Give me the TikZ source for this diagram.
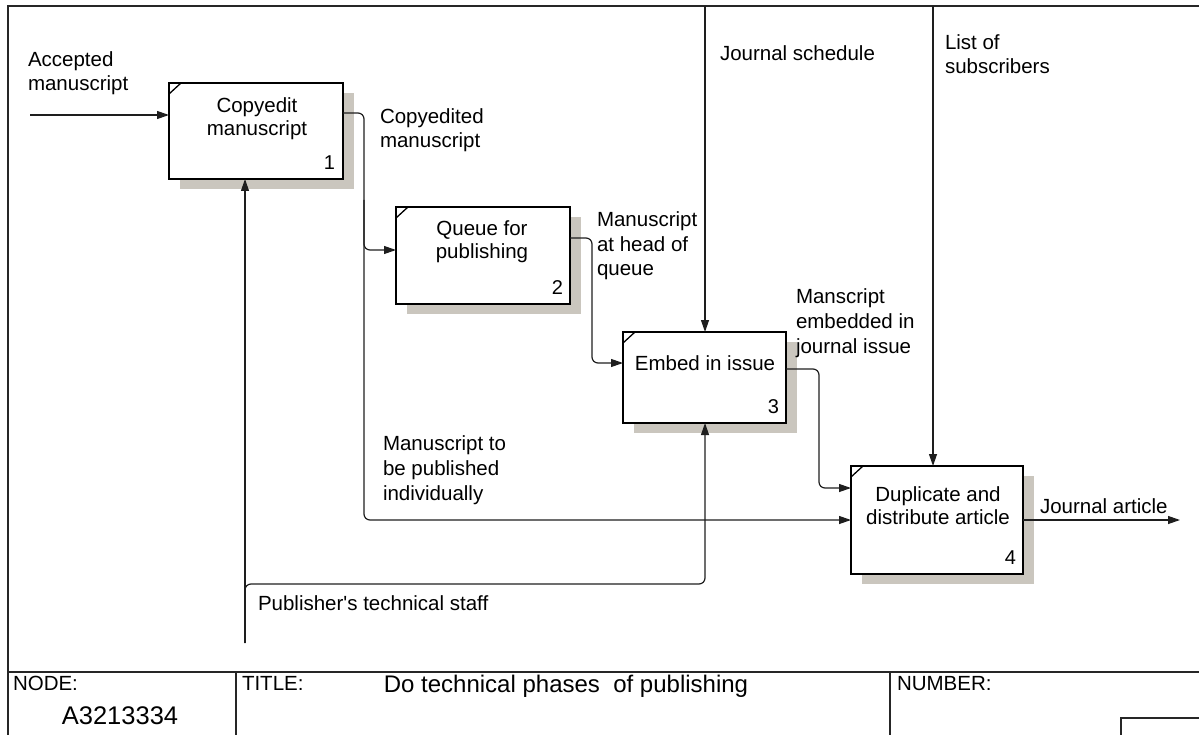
\documentclass[tikz,border=0pt]{standalone}
\usepackage{fontspec}
\setmainfont{Liberation Sans}[Ligatures=TeXOff]
\usetikzlibrary{arrows.meta,shadows}
\definecolor{shadowgray}{RGB}{202,198,190}
\definecolor{linegray}{RGB}{30,30,30}
\begin{document}
\begin{tikzpicture}[x=1pt,y=-1pt,
  every node/.style={inner sep=0pt, outer sep=0pt},
  lbl/.style={anchor=base west, align=left, font=\fontsize{20.5}{24.6}\selectfont},
  boxtext/.style={anchor=base, align=center, font=\fontsize{20.5}{23}\selectfont},
  numtext/.style={anchor=base east, font=\fontsize{20}{23}\selectfont},
  actbox/.style={draw=black, line width=2.4pt, fill=white,
    general shadow={fill=shadowgray, shadow xshift=11pt, shadow yshift=-10pt}},
  conn/.style={draw=linegray, line width=1.2pt, -{Triangle[length=12pt,width=8pt]}},
  rc/.style={rounded corners=6pt},
  frame/.style={draw=black!85, line width=1.4pt},
  tick/.style={draw=black, line width=1.3pt}]
\useasboundingbox (0,0) rectangle (1199,735);

% frame and title block
\draw[frame] (8,735) -- (8,6) -- (1199,6);
\draw[frame] (8,672) -- (1199,672);
\draw[frame] (236,672) -- (236,735);
\draw[frame] (890,672) -- (890,735);
\draw[frame] (1121,735) -- (1121,718) -- (1199,718);
\node[lbl] (nodelbl) at (13,690) {NODE:};
\node[anchor=base, font=\fontsize{25.5}{28}\selectfont] (nodeid) at (120,724) {A3213334};
\node[lbl] (titlelbl) at (242,690) {TITLE:};
\node[anchor=base, font=\fontsize{24}{28}\selectfont] (title) at (566,692) {Do technical phases\ \ of publishing};
\node[lbl] (numlbl) at (897,690) {NUMBER:};

% activity boxes
\node[actbox, minimum width=174pt, minimum height=96pt] (b1) at (256,131) {};
\node[actbox, minimum width=174pt, minimum height=97pt] (b2) at (483,255.5) {};
\node[actbox, minimum width=163pt, minimum height=91pt] (b3) at (704.5,377.5) {};
\node[actbox, minimum width=172pt, minimum height=108pt] (b4) at (937,520) {};

\foreach \b in {b1,b2,b3,b4}{
  \draw[tick] ([yshift=-11pt]\b.north west) -- ([xshift=12pt]\b.north west);
}

% box texts (anchor = baseline of last line)
\node[boxtext] (t1) at (257,136) {Copyedit\\manuscript};
\node[boxtext] (t2) at (482,259) {Queue for\\publishing};
\node[boxtext] (t3) at (705,370) {Embed in issue};
\node[boxtext] (t4) at (938,524) {Duplicate and\\distribute article};

\node[numtext] (n1) at ([xshift=-8pt,yshift=9.5pt]b1.south east) {1};
\node[numtext] (n2) at ([xshift=-7pt,yshift=9.5pt]b2.south east) {2};
\node[numtext] (n3) at ([xshift=-7pt,yshift=9.5pt]b3.south east) {3};
\node[numtext] (n4) at ([xshift=-7pt,yshift=9.5pt]b4.south east) {4};

% connector points
\coordinate (acc) at (30,115);
\coordinate (j1) at (364,113);
\coordinate (j2) at (364,250);
\coordinate (j3) at (364,200);
\coordinate (k1) at (592,238);
\coordinate (k2) at (592,363);
\coordinate (l1) at (819,369);
\coordinate (l2) at (819,488);
\coordinate (ja) at (1180,520);
\coordinate (js) at (705,6);
\coordinate (ls) at (933,6);
\coordinate (pts) at (245,643);
\coordinate (m1) at (705,584);

% connectors
\draw[conn] (acc) -- (acc -| b1.west);
\draw[conn,rc] ([yshift=18pt]b1.east) -- (j1) -- (j2) -- ([yshift=5.5pt]b2.west);
\draw[conn,rc] (j3) |- (b4.west);
\draw[conn,rc] ([yshift=17.5pt]b2.east) -- (k1) -- (k2) -- ([yshift=14.5pt]b3.west);
\draw[conn,rc] ([yshift=8.5pt]b3.east) -- (l1) -- (l2) -- ([yshift=32pt]b4.west);
\draw[conn] (b4.east) -- (ja);
\draw[conn] (js) -- (js |- b3.north);
\draw[conn] (ls) -- (ls |- b4.north);
\draw[conn] (pts) -- (pts |- b1.south);
\draw[conn,rc] (pts) |- (m1) -- (m1 |- b3.south);

% labels (anchor = baseline of last line)
\node[lbl] (lacc) at (28,91) {Accepted\\manuscript};
\node[lbl] (lcm) at (380,148) {Copyedited\\manuscript};
\node[lbl] (lmh) at (597,276) {Manuscript\\at head of\\queue};
\node[lbl] (ljs) at (720,61) {Journal schedule};
\node[lbl] (lls) at (945,74) {List of\\subscribers};
\node[lbl] (lme) at (796,353) {Manscript\\embedded in\\journal issue};
\node[lbl] (lpi) at (383,500) {Manuscript to\\be published\\individually};
\node[lbl] (lja) at (1040,513) {Journal article};
\node[lbl] (lpt) at (258,610) {Publisher's technical staff};
\end{tikzpicture}
\end{document}
